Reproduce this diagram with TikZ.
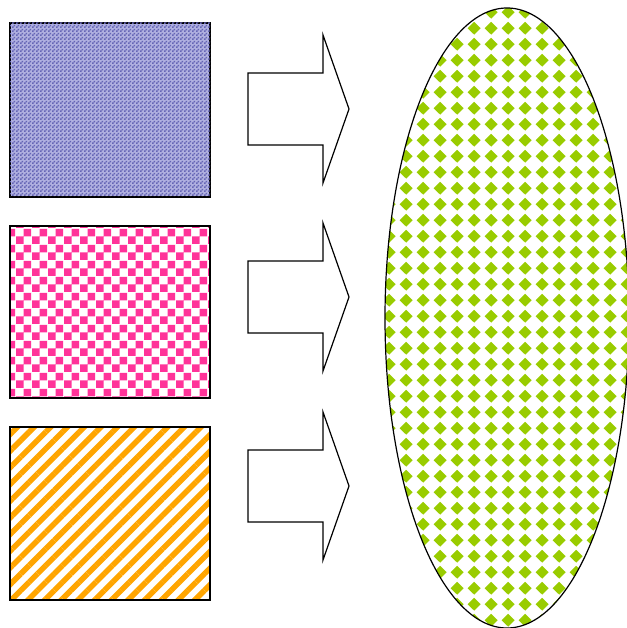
\documentclass[tikz,border=0pt]{standalone}
\usetikzlibrary{patterns, patterns.meta, shapes.geometric}
\definecolor{clrNavy}{HTML}{333399}
\definecolor{clrLav}{HTML}{B0B0E0}
\definecolor{clrPink}{HTML}{FF3399}
\definecolor{clrOrange}{HTML}{FFA500}
\definecolor{clrLime}{HTML}{99CC00}

% form-only patterns
\pgfdeclarepatternformonly{finechecker}{\pgfpointorigin}{\pgfpoint{4pt}{4pt}}{\pgfpoint{4pt}{4pt}}{%
  \pgfpathrectangle{\pgfpointorigin}{\pgfpoint{2pt}{2pt}}%
  \pgfpathrectangle{\pgfpoint{2pt}{2pt}}{\pgfpoint{2pt}{2pt}}%
  \pgfusepath{fill}}
\pgfdeclarepatternformonly{bigchecker}{\pgfpointorigin}{\pgfpoint{16pt}{16pt}}{\pgfpoint{16pt}{16pt}}{%
  \pgfpathrectangle{\pgfpointorigin}{\pgfpoint{8pt}{8pt}}%
  \pgfpathrectangle{\pgfpoint{8pt}{8pt}}{\pgfpoint{8pt}{8pt}}%
  \pgfusepath{fill}}
\pgfdeclarepatternformonly{diamondgrid}{\pgfpointorigin}{\pgfpoint{16.6pt}{15.8pt}}{\pgfpoint{16.6pt}{15.8pt}}{%
  \pgfpathmoveto{\pgfpoint{8.3pt}{1.4pt}}%
  \pgfpathlineto{\pgfpoint{15pt}{7.9pt}}%
  \pgfpathlineto{\pgfpoint{8.3pt}{14.4pt}}%
  \pgfpathlineto{\pgfpoint{1.6pt}{7.9pt}}%
  \pgfpathclose
  \pgfusepath{fill}}

\tikzset{
  srcbox/.style={rectangle, draw=black, line width=1.2pt, inner sep=0pt,
                 minimum width=200pt},
  blockarrow/.style={draw=black, line width=1.2pt, fill=white, line join=miter}
}

\begin{document}
\begin{tikzpicture}[x=1pt, y=-1pt]
  \useasboundingbox (0,0) rectangle (626,628);

  \node[srcbox, minimum height=174pt, fill=clrLav,
        postaction={pattern=finechecker, pattern color=clrNavy!60!clrLav}] (blue) at (110,110) {};
  \node[srcbox, minimum height=172pt, pattern=bigchecker, pattern color=clrPink] (pink) at (110,312) {};
  \node[srcbox, minimum height=173pt, pattern color=clrOrange,
        pattern={Lines[angle=45, distance=11.8pt, line width=5.5pt]}] (orange) at (110,513.5) {};

  \foreach \c in {109, 297, 486}
    \draw[blockarrow] (248,{\c-36}) -- (323,{\c-36}) -- (323,{\c-74}) -- (349,\c)
      -- (323,{\c+74}) -- (323,{\c+36}) -- (248,{\c+36}) -- cycle;

  \node[ellipse, draw=black, line width=1.2pt, inner sep=0pt,
        minimum width=244pt, minimum height=620pt,
        pattern=diamondgrid, pattern color=clrLime] (mix) at (507,318) {};
\end{tikzpicture}
\end{document}
